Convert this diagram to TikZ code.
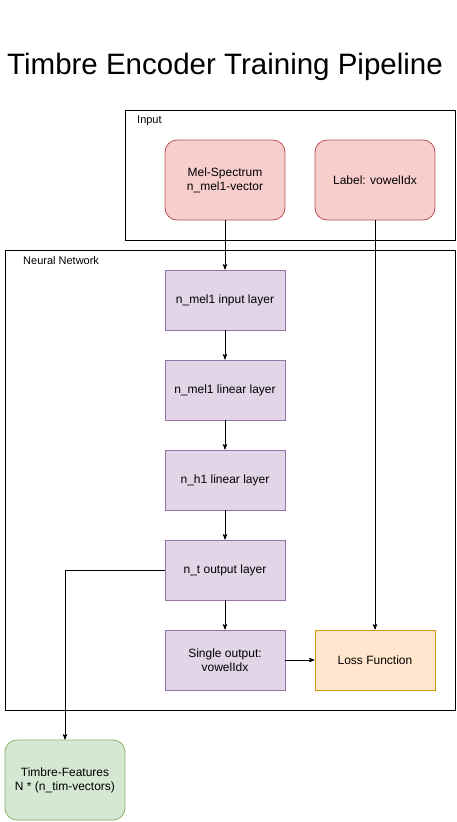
\documentclass[tikz,border=0pt]{standalone}
\usepackage{fontspec}
\setmainfont{Liberation Sans}
\usepackage{xcolor}
\usepackage{tikz}
\usetikzlibrary{arrows}
\usetikzlibrary{positioning}

\definecolor{redfill}{HTML}{F8CECC}
\definecolor{redline}{HTML}{B85450}
\definecolor{purplefill}{HTML}{E1D5E7}
\definecolor{purpleline}{HTML}{9673A6}
\definecolor{orangefill}{HTML}{FFE6CC}
\definecolor{orangeline}{HTML}{D79B00}
\definecolor{greenfill}{HTML}{D5E8D4}
\definecolor{greenline}{HTML}{82B366}

\tikzset{
  box/.style={draw, line width=0.8pt, minimum width=120pt, minimum height=60pt,
    inner sep=0pt, outer sep=0pt, align=center, font=\fontsize{12}{14}\selectfont},
  layer/.style={box, fill=purplefill, draw=purpleline},
  inputbox/.style={box, rounded corners=12pt, minimum height=80pt, fill=redfill, draw=redline},
  lossbox/.style={box, fill=orangefill, draw=orangeline},
  featbox/.style={box, rounded corners=12pt, minimum height=80pt, fill=greenfill, draw=greenline},
  group/.style={draw, line width=0.8pt, inner sep=0pt, outer sep=0pt, anchor=north west},
  grouplabel/.style={anchor=west, inner sep=0pt, font=\fontsize{11}{13}\selectfont},
  flow/.style={-stealth', line width=0.9pt, shorten >=0.5pt}
}

\begin{document}
\begin{tikzpicture}[x=1pt, y=1pt, node distance=30pt]
     \useasboundingbox (0,0) rectangle (457,-822);
     \node[font=\fontsize{29.5}{33}\selectfont] (title) at (225,-67) {Timbre Encoder Training Pipeline};

     %groups
     \node[group, minimum width=330pt, minimum height=130pt] (input) at (125,-110) {};
     \node[grouplabel] (inputlbl) at (137,-121) {Input};
     \node[group, minimum width=450pt, minimum height=460pt] (net) at (5,-250) {};
     \node[grouplabel] (netlbl) at (23,-261) {Neural Network};

     %nodes
     \node[inputbox] (mel) at (225,-180) {Mel-Spectrum\\n\_mel1-vector};
     \node[inputbox, right=of mel] (label) {Label: vowelIdx};
     \node[layer] (inl) at (225,-300) {n\_mel1 input layer};
     \node[layer, below=of inl] (mell) {n\_mel1 linear layer};
     \node[layer, below=of mell] (hl) {n\_h1 linear layer};
     \node[layer, below=of hl] (outl) {n\_t output layer};
     \node[layer, below=of outl] (single) {Single output:\\vowelIdx};
     \node[lossbox, right=of single] (loss) {Loss Function};
     \node[featbox] (feat) at (65,-780) {Timbre-Features\\N * (n\_tim-vectors)};

     %edges
     \draw[flow] (mel.south) -- (inl.north);
     \draw[flow] (inl.south) -- (mell.north);
     \draw[flow] (mell.south) -- (hl.north);
     \draw[flow] (hl.south) -- (outl.north);
     \draw[flow] (outl.south) -- (single.north);
     \draw[flow] (single.east) -- (loss.west);
     \draw[flow] (label.south) -- (loss.north);
     \draw[flow] (outl.west) -| (feat.north);
\end{tikzpicture}
\end{document}
